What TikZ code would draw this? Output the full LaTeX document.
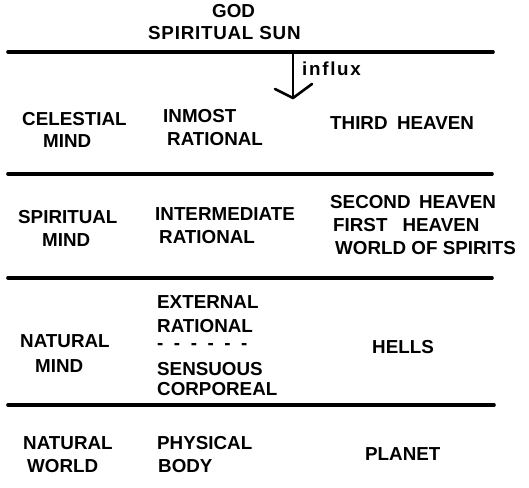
\documentclass[tikz,border=0pt]{standalone}
\usepackage{fontspec}
\setmainfont{Liberation Sans}
\usepackage{tikz}
\usetikzlibrary{positioning}

\tikzset{
  lbl/.style={anchor=base west, inner sep=0pt, font=\fontsize{18.8}{22}\selectfont\bfseries},
  sep/.style={line width=3.6pt, line cap=round},
  influx/.style={line width=2.6pt, line cap=round, line join=round}
}

\begin{document}
\begin{tikzpicture}[x=1pt, y=-1pt, line join=round, line cap=round]

\useasboundingbox (0,0) rectangle (529,487);

% top: source
\node[lbl] (god) at (212,18) {GOD};
\node[lbl] (sun) at (148,40) {\addfontfeature{LetterSpace=4}SPIRITUAL SUN};

% separators
\draw[sep](8,52)--(493,52);
\draw[sep](8,174)--(492,174);
\draw[sep](8,278)--(492,278);
\draw[sep](8,405)--(494,405);

% influx arrow
\coordinate (inTop) at (293,52);
\coordinate (inTip) at (293,98);
\draw[influx] (inTop) -- (inTip);
\draw[influx] (275,89) -- (inTip) -- (312,84);
\node[lbl] (influx) at (302,75) {\addfontfeature{LetterSpace=9}influx};

% celestial
\node[lbl] (celA) at (22,125) {CELESTIAL};
\node[lbl] (celB) at (43,147) {MIND};
\node[lbl] (inmA) at (163,122) {INMOST};
\node[lbl] (inmB) at (167,145) {RATIONAL};
\node[lbl] (third) at (330,129) {THIRD\hspace{0.5em}HEAVEN};

% spiritual
\node[lbl] (spiA) at (18,223) {SPIRITUAL};
\node[lbl] (spiB) at (42,246) {MIND};
\node[lbl] (intA) at (155,220) {INTERMEDIATE};
\node[lbl] (intB) at (159,243) {RATIONAL};
\node[lbl] (second) at (330,208) {SECOND\hspace{0.45em}HEAVEN};
\node[lbl] (first) at (333,231) {FIRST\hspace{0.8em}HEAVEN};
\node[lbl] (world) at (335,254) {WORLD OF SPIRITS};

% natural mind
\node[lbl] (natA) at (20,347) {NATURAL};
\node[lbl] (natB) at (35,372) {MIND};
\node[lbl] (extA) at (157,308) {EXTERNAL};
\node[lbl] (extB) at (157,332) {RATIONAL};
\node[lbl] (dash) at (157,349) {-\hspace{0.56em}-\hspace{0.56em}-\hspace{0.56em}-\hspace{0.56em}-\hspace{0.56em}-};
\node[lbl] (senA) at (157,375) {SENSUOUS};
\node[lbl] (senB) at (157,395) {CORPOREAL};
\node[lbl] (hells) at (372,353) {HELLS};

% natural world
\node[lbl] (nwA) at (23,449) {NATURAL};
\node[lbl] (nwB) at (27,472) {WORLD};
\node[lbl] (phyA) at (157,449) {PHYSICAL};
\node[lbl] (phyB) at (158,472) {BODY};
\node[lbl] (planet) at (365,460) {PLANET};

\end{tikzpicture}
\end{document}
